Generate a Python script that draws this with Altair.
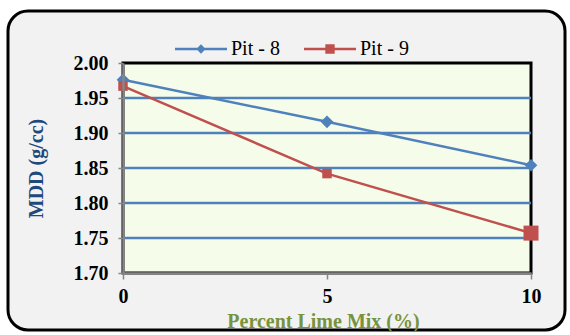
import altair as alt
import pandas as pd

# ---- data ----
lime = [0, 5, 10]
pit8 = [1.976, 1.916, 1.854]
pit9 = [1.967, 1.842, 1.757]
series = ["Pit - 8", "Pit - 9"]
colors = ["#4F81BD", "#C0504D"]
y_ticks = [1.70, 1.75, 1.80, 1.85, 1.90, 1.95, 2.00]
x_ticks = [0, 5, 10]

df = pd.DataFrame({
    "lime": lime + lime,
    "mdd": pit8 + pit9,
    "series": [series[0]] * len(lime) + [series[1]] * len(lime),
})
grid = pd.DataFrame({"mdd": y_ticks[1:-1]})
one = pd.DataFrame({"k": [0]})

W, H = 408, 210
FONT = "Liberation Serif"

xscale = alt.Scale(domain=[x_ticks[0], x_ticks[-1]], nice=False)
yscale = alt.Scale(domain=[y_ticks[0], y_ticks[-1]], nice=False, zero=False)
cscale = alt.Scale(domain=series, range=colors)

X = alt.X("lime:Q", scale=xscale, axis=alt.Axis(
    values=x_ticks, grid=False, labelFlush=False,
    labelFont=FONT, labelFontSize=20, labelFontWeight="bold", labelColor="black",
    labelPadding=7, tickSize=6, tickColor="#868686", tickWidth=1.5,
    domainColor="#868686", domainWidth=2.5,
    title="Percent Lime Mix (%)", titleFont=FONT, titleFontSize=20,
    titleFontWeight="bold", titleColor="#77933C", titleX=200, titleY=48,
    titleBaseline="middle", zindex=2))
Y = alt.Y("mdd:Q", scale=yscale, axis=alt.Axis(
    values=y_ticks, format=".2f", grid=False,
    labelFont=FONT, labelFontSize=20, labelFontWeight="bold", labelColor="black",
    labelPadding=10, tickSize=5, tickColor="#868686", tickWidth=1.5,
    domainColor="#868686", domainWidth=2.5,
    title="MDD (g/cc)", titleFont=FONT, titleFontSize=20, titleFontWeight="bold",
    titleColor="#1F497D", titleX=-87, titleY=H / 2, titleAngle=270,
    titleBaseline="middle", titleAlign="center", zindex=2))

frame = alt.Chart(one).mark_rect(
    fill="#F2F2F2", stroke="black", strokeWidth=3, cornerRadius=20
).encode(x=alt.value(-115), x2=alt.value(442), y=alt.value(-52), y2=alt.value(267))

plotbg = alt.Chart(one).mark_rect(
    fill="#F5FCE9", stroke="black", strokeWidth=3
).encode(x=alt.value(0), x2=alt.value(W), y=alt.value(0), y2=alt.value(H))

rules = alt.Chart(grid).mark_rule(color="#4F81BD", strokeWidth=2.5).encode(y=Y)

layers = [frame, plotbg, rules]
for s, c, shp in zip(series, colors, ["diamond", "square"]):
    base = alt.Chart(df).transform_filter(alt.datum.series == s)
    layers.append(base.mark_line(strokeWidth=2.5, color=c).encode(x=X, y=Y))
    if shp == "diamond":
        layers.append(base.mark_point(shape=shp, filled=True, size=160, opacity=1, color=c)
                      .encode(x=X, y=Y))
    else:
        layers.append(base.mark_point(shape=shp, filled=True, opacity=1, color=c)
                      .encode(x=X, y=Y,
                              size=alt.condition("datum.lime == 10", alt.value(225), alt.value(90))))

path8 = "M-1,-0.048L1,-0.048L1,0.048L-1,0.048Z M0,-0.18L0.18,0L0,0.18L-0.18,0Z"
path9 = "M-1,-0.048L1,-0.048L1,0.048L-1,0.048Z M-0.18,-0.18L0.18,-0.18L0.18,0.18L-0.18,0.18Z"

leg = alt.Legend(
    title=None, orient="none", legendX=52, legendY=-40, direction="horizontal",
    symbolSize=2704, symbolStrokeWidth=0, symbolOpacity=1,
    labelFont=FONT, labelFontSize=20, labelColor="black", labelOffset=4,
    columnPadding=24, padding=0, zindex=2)

layers.append(alt.Chart(df).mark_point(filled=True, opacity=0).encode(
    x=X, y=Y,
    color=alt.Color("series:N", scale=cscale, legend=leg),
    shape=alt.Shape("series:N", scale=alt.Scale(domain=series, range=[path8, path9]), legend=leg)))

chart = alt.layer(*layers).properties(
    width=W, height=H,
    padding={"left": 123, "top": 63, "right": 39, "bottom": 62},
    autosize=alt.AutoSizeParams(type="none"),
    background="white",
).configure(
    font=FONT, view=alt.ViewConfig(stroke=None),
    axis=alt.AxisConfig(labelFont=FONT, titleFont=FONT),
    legend=alt.LegendConfig(labelFont=FONT),
)

chart.save("out.html", embed_options={"renderer": "svg", "actions": False})
